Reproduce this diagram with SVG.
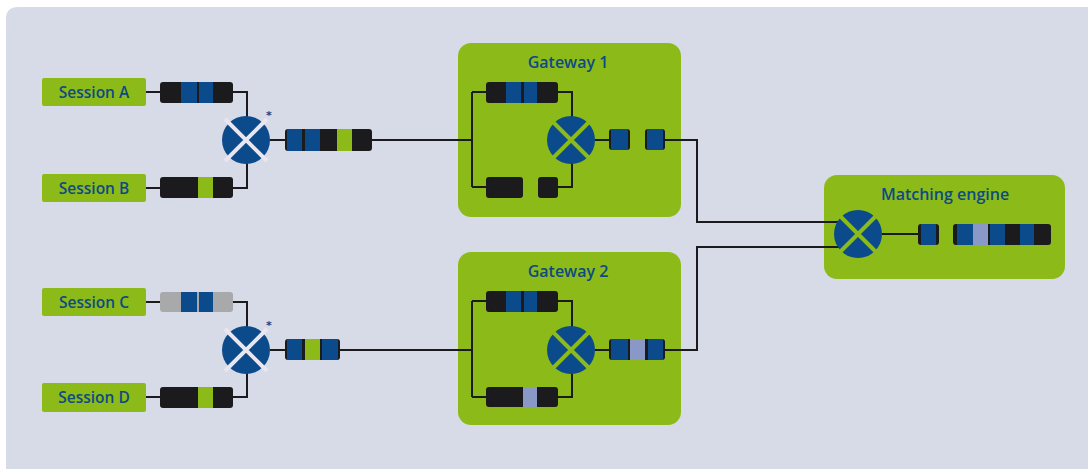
<svg xmlns="http://www.w3.org/2000/svg" width="1088" height="469" viewBox="0 0 1088 469">
  <style>
    .panel { fill: #d7dbe8; }
    .box { fill: #8cbb19; }
    .label { font-family: "Open Sans", "Liberation Sans", sans-serif; font-weight: 600; fill: #0d4a84; text-anchor: middle; }
    .session { font-size: 15.5px; }
    .title { font-size: 16px; }
    .wire { fill: none; stroke: #1b1b1d; stroke-width: 2; }
    .k { fill: #1b1b1d; }
    .b { fill: #0b4a8b; }
    .g { fill: #8cbb19; }
    .l { fill: #8a98c8; }
    .gr { fill: #a8a9ab; }
    .hub { fill: #0b4a8b; }
    .xlight { stroke: #e9e6ef; stroke-width: 4; }
    .xgreen { stroke: #8cbb19; stroke-width: 4; }
    .star { font-family: "DejaVu Sans", sans-serif; font-size: 11px; fill: #0b4a8b; font-weight: bold; }
  </style>

  <!-- background panel -->
  <rect width="1088" height="469" fill="#ffffff"/>
  <path class="panel" d="M6,469 V19 Q6,7 18,7 H1088 V469 Z"/>

  <!-- group containers -->
  <g id="gateway1">
    <rect class="box" x="458" y="43" width="223" height="174" rx="13"/>
    <text class="label title" x="568" y="68">Gateway 1</text>
  </g>
  <g id="gateway2">
    <rect class="box" x="458" y="252" width="223" height="173" rx="13"/>
    <text class="label title" x="568" y="277">Gateway 2</text>
  </g>
  <g id="matching-engine">
    <rect class="box" x="824" y="175" width="241" height="104" rx="13"/>
    <text class="label title" x="945" y="200">Matching engine</text>
  </g>

  <!-- connectors -->
  <g id="connectors">
    <path class="wire" d="M146,92 H160 M233,92 H247 V118 M146,188 H160 M233,188 H247 V162"/>
    <path class="wire" d="M146,302 H160 M233,302 H247 V328 M146,397 H160 M233,397 H247 V372"/>
    <path class="wire" d="M270,140 H285 M372,140 H472 M472,92 V187 M472,92 H486 M472,187 H486"/>
    <path class="wire" d="M558,92 H572 V118 M558,187 H572 V162 M595,140 H609 M665,140 H697 V222 H842"/>
    <path class="wire" d="M270,350 H285 M340,350 H472 M472,301 V397 M472,301 H486 M472,397 H486"/>
    <path class="wire" d="M558,301 H572 V328 M558,397 H572 V372 M595,350 H609 M665,350 H697 V247 H842"/>
    <path class="wire" d="M882,234 H918"/>
  </g>

  <!-- sessions -->
  <g id="session-a">
    <rect class="box" x="42" y="78" width="104" height="28" rx="2"/>
    <text class="label session" x="94" y="98">Session A</text>
  </g>
  <g id="session-b">
    <rect class="box" x="42" y="174" width="104" height="28" rx="2"/>
    <text class="label session" x="94" y="194">Session B</text>
  </g>
  <g id="session-c">
    <rect class="box" x="42" y="288" width="104" height="28" rx="2"/>
    <text class="label session" x="94" y="308">Session C</text>
  </g>
  <g id="session-d">
    <rect class="box" x="42" y="383" width="104" height="29" rx="2"/>
    <text class="label session" x="94" y="403">Session D</text>
  </g>

  <!-- message queues -->
  <g id="queue-a">
    <rect class="k" x="160" y="82" width="73" height="21" rx="3"/>
    <rect class="b" x="181" y="82" width="16" height="21"/>
    <rect class="b" x="199" y="82" width="14" height="21"/>
  </g>
  <g id="queue-b">
    <rect class="k" x="160" y="177" width="73" height="21" rx="3"/>
    <rect class="g" x="198" y="177" width="15" height="21"/>
  </g>
  <g id="queue-c">
    <rect class="gr" x="160" y="292" width="73" height="20" rx="3"/>
    <rect class="b" x="181" y="292" width="16" height="20"/>
    <rect class="b" x="199" y="292" width="14" height="20"/>
  </g>
  <g id="queue-d">
    <rect class="k" x="160" y="387" width="73" height="21" rx="3"/>
    <rect class="g" x="198" y="387" width="15" height="21"/>
  </g>
  <g id="merged-1">
    <rect class="k" x="285" y="129" width="87" height="22" rx="3"/>
    <rect class="b" x="287" y="129" width="15" height="22"/>
    <rect class="b" x="305" y="129" width="15" height="22"/>
    <rect class="g" x="337" y="129" width="15" height="22"/>
  </g>
  <g id="merged-2">
    <rect class="k" x="285" y="339" width="55" height="21" rx="3"/>
    <rect class="b" x="287" y="339" width="15" height="21"/>
    <rect class="g" x="305" y="339" width="15" height="21"/>
    <rect class="b" x="322" y="339" width="16" height="21"/>
  </g>
  <g id="gw1-queue-top">
    <rect class="k" x="486" y="82" width="72" height="21" rx="3"/>
    <rect class="b" x="506" y="82" width="15" height="21"/>
    <rect class="b" x="524" y="82" width="13" height="21"/>
  </g>
  <g id="gw1-queue-bottom">
    <rect class="k" x="486" y="177" width="37" height="21" rx="3"/>
    <rect class="k" x="538" y="177" width="20" height="21" rx="3"/>
  </g>
  <g id="gw1-out">
    <rect class="k" x="609" y="129" width="21" height="21" rx="3"/>
    <rect class="b" x="611" y="129" width="17" height="21"/>
    <rect class="k" x="645" y="129" width="20" height="21" rx="3"/>
    <rect class="b" x="647" y="129" width="16" height="21"/>
  </g>
  <g id="gw2-queue-top">
    <rect class="k" x="486" y="291" width="72" height="21" rx="3"/>
    <rect class="b" x="506" y="291" width="15" height="21"/>
    <rect class="b" x="524" y="291" width="13" height="21"/>
  </g>
  <g id="gw2-queue-bottom">
    <rect class="k" x="486" y="387" width="72" height="20" rx="3"/>
    <rect class="l" x="523" y="387" width="14" height="20"/>
  </g>
  <g id="gw2-out">
    <rect class="k" x="609" y="339" width="56" height="21" rx="3"/>
    <rect class="b" x="611" y="339" width="17" height="21"/>
    <rect class="l" x="630" y="339" width="15" height="21"/>
    <rect class="b" x="648" y="339" width="15" height="21"/>
  </g>
  <g id="engine-out">
    <rect class="k" x="918" y="224" width="21" height="21" rx="3"/>
    <rect class="b" x="921" y="224" width="15" height="21"/>
    <rect class="k" x="953" y="224" width="98" height="21" rx="3"/>
    <rect class="b" x="957" y="224" width="16" height="21"/>
    <rect class="l" x="973" y="224" width="15" height="21"/>
    <rect class="b" x="990" y="224" width="15" height="21"/>
    <rect class="b" x="1020" y="224" width="14" height="21"/>
  </g>

  <!-- merge points -->
  <g id="merge-ab">
    <circle class="hub" cx="246" cy="140" r="24"/>
    <path class="xlight" d="M225,119 L267,161 M267,119 L225,161"/>
    <text class="star" x="266" y="119">*</text>
  </g>
  <g id="merge-cd">
    <circle class="hub" cx="246" cy="350" r="24"/>
    <path class="xlight" d="M225,329 L267,371 M267,329 L225,371"/>
    <text class="star" x="266" y="329">*</text>
  </g>
  <g id="merge-gw1">
    <circle class="hub" cx="571" cy="140" r="24"/>
    <path class="xgreen" d="M553,122 L589,158 M589,122 L553,158"/>
  </g>
  <g id="merge-gw2">
    <circle class="hub" cx="571" cy="350" r="24"/>
    <path class="xgreen" d="M553,332 L589,368 M589,332 L553,368"/>
  </g>
  <g id="merge-engine">
    <circle class="hub" cx="858" cy="234" r="24"/>
    <path class="xgreen" d="M840,216 L876,252 M876,216 L840,252"/>
  </g>
</svg>
